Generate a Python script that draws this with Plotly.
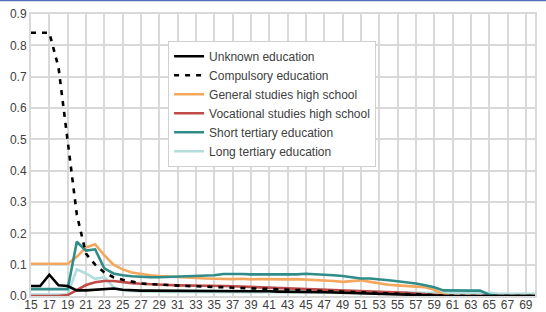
import plotly.graph_objects as go

ages = list(range(15, 71))

unknown = [0.032, 0.032, 0.068, 0.034, 0.032, 0.018, 0.018, 0.02, 0.024, 0.024,
           0.02, 0.018, 0.017, 0.017, 0.017, 0.017, 0.017, 0.017, 0.017, 0.017,
           0.017, 0.016, 0.016, 0.016, 0.016, 0.015, 0.015, 0.014, 0.014, 0.013,
           0.013, 0.012, 0.012, 0.011, 0.01, 0.01, 0.009, 0.008, 0.007, 0.006,
           0.005, 0.004, 0.003, 0.002, 0.001, 0.0, 0.0, 0.0, 0.0, 0.0,
           0.0, 0.0, 0.0, 0.0, 0.0, 0.0]
compulsory = [0.84, 0.84, 0.84, 0.73, 0.49, 0.26, 0.135, 0.10, 0.075, 0.06,
              0.052, 0.045, 0.04, 0.038, 0.036, 0.034, 0.033, 0.032, 0.031, 0.03,
              0.029, 0.028, 0.027, 0.026, 0.025, 0.024, 0.023, 0.022, 0.02, 0.019,
              0.018, 0.017, 0.016, 0.015, 0.014, 0.012, 0.011, 0.01, 0.009, 0.008,
              0.007, 0.006, 0.005, 0.004, 0.003, 0.001, 0.0, 0.0, 0.0, 0.0,
              0.0, 0.0, 0.0, 0.0, 0.0, 0.0]
general = [0.103, 0.103, 0.103, 0.103, 0.103, 0.125, 0.155, 0.165, 0.13, 0.10,
           0.085, 0.075, 0.07, 0.066, 0.064, 0.062, 0.06, 0.058, 0.057, 0.056,
           0.055, 0.054, 0.054, 0.055, 0.053, 0.054, 0.053, 0.052, 0.053, 0.054,
           0.053, 0.052, 0.05, 0.048, 0.045, 0.048, 0.05, 0.045, 0.04, 0.036,
           0.034, 0.033, 0.03, 0.028, 0.02, 0.005, 0.0, 0.0, 0.0, 0.0,
           0.0, 0.0, 0.0, 0.0, 0.0, 0.0]
vocational = [0.0, 0.0, 0.0, 0.0, 0.003, 0.018, 0.035, 0.044, 0.048, 0.048,
              0.044, 0.041, 0.039, 0.037, 0.036, 0.035, 0.034, 0.034, 0.033, 0.033,
              0.033, 0.032, 0.031, 0.03, 0.029, 0.028, 0.027, 0.026, 0.025, 0.024,
              0.023, 0.022, 0.021, 0.02, 0.019, 0.018, 0.016, 0.015, 0.014, 0.012,
              0.011, 0.01, 0.008, 0.006, 0.004, 0.001, 0.0, 0.0, 0.0, 0.0,
              0.0, 0.0, 0.0, 0.0, 0.0, 0.0]
short_tertiary = [0.022, 0.022, 0.022, 0.022, 0.022, 0.173, 0.145, 0.149, 0.088, 0.072,
                  0.066, 0.063, 0.061, 0.06, 0.06, 0.061, 0.062, 0.062, 0.062, 0.063,
                  0.066, 0.07, 0.071, 0.07, 0.069, 0.069, 0.068, 0.068, 0.069, 0.069,
                  0.071, 0.07, 0.068, 0.066, 0.064, 0.06, 0.056, 0.056, 0.054, 0.05,
                  0.047, 0.044, 0.04, 0.034, 0.028, 0.018, 0.017, 0.017, 0.017, 0.017,
                  0.004, 0.0, 0.0, 0.0, 0.0, 0.0]
long_tertiary = [0.005, 0.005, 0.005, 0.005, 0.005, 0.085, 0.072, 0.055, 0.06, 0.028,
                 0.018, 0.015, 0.014, 0.013, 0.013, 0.013, 0.013, 0.013, 0.013, 0.013,
                 0.013, 0.013, 0.013, 0.013, 0.013, 0.013, 0.013, 0.012, 0.012, 0.012,
                 0.012, 0.012, 0.012, 0.012, 0.012, 0.012, 0.012, 0.011, 0.011, 0.011,
                 0.011, 0.011, 0.011, 0.01, 0.01, 0.01, 0.01, 0.01, 0.01, 0.01,
                 0.01, 0.007, 0.007, 0.007, 0.007, 0.007]

tick_ages = list(range(15, 70, 2))
tick_labels = [str(a) for a in tick_ages]

series = [
    ("Long tertiary education", long_tertiary, "#B3DCDC", "solid", 6),
    ("Vocational studies high school", vocational, "#BE4B48", "solid", 4),
    ("General studies high school", general, "#F4A85E", "solid", 3),
    ("Short tertiary education", short_tertiary, "#2F8C88", "solid", 5),
    ("Unknown education", unknown, "#000000", "solid", 1),
    ("Compulsory education", compulsory, "#000000", "5px,6px", 2),
]

fig = go.Figure()
for name, vals, color, dash, rank in series:
    fig.add_trace(go.Scatter(
        x=ages, y=vals, mode="lines", name=name, legendrank=rank,
        line=dict(color=color, width=2.6, dash=dash),
    ))

grid = "#D9D9D9"
font = "Liberation Sans, Arial, sans-serif"
fig.update_layout(
    width=546, height=312,
    margin=dict(l=31, r=11, t=14, b=16),
    paper_bgcolor="white", plot_bgcolor="white",
    font=dict(family=font, size=12, color="#404040"),
    showlegend=True,
    legend=dict(
        x=0.272, y=0.905, xanchor="left", yanchor="top",
        bgcolor="white", bordercolor="#D0D0D0", borderwidth=1,
        font=dict(family=font, size=12, color="#404040"),
        tracegroupgap=0,
    ),
    xaxis=dict(
        range=[15, 70], tickmode="array", tickvals=tick_ages, ticktext=tick_labels,
        showgrid=True, gridcolor=grid, gridwidth=2,
        showline=True, linecolor=grid, linewidth=2, mirror=True,
        zeroline=False, ticks="", automargin=False, ticklabelstandoff=-3,
        tickfont=dict(size=12, color="#404040"),
    ),
    yaxis=dict(
        range=[0, 0.9], dtick=0.1, tickformat=".1f",
        showgrid=True, gridcolor=grid, gridwidth=2,
        showline=True, linecolor=grid, linewidth=2, mirror=True,
        zeroline=False, ticks="", automargin=False,
        tickfont=dict(size=12, color="#404040"),
    ),
    shapes=[dict(
        type="line", xref="paper", yref="paper",
        x0=-31 / 503, x1=1 + 11 / 503, y0=1 + 13.5 / 282, y1=1 + 13.5 / 282,
        line=dict(color="#4F6FB8", width=1.5),
    )],
)

fig.write_html("out.html")
